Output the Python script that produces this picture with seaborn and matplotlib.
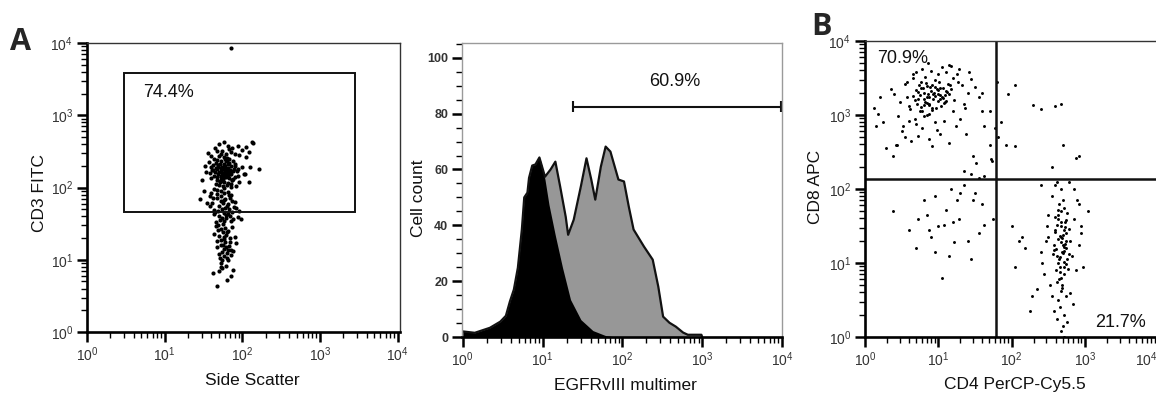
import numpy as np
import matplotlib
matplotlib.use("Agg")
import matplotlib.pyplot as plt
import matplotlib.ticker as mticker
import seaborn as sns

sns.set_theme(style="white")
plt.rcParams['font.family'] = ['Liberation Sans', 'DejaVu Sans']
plt.rcParams['mathtext.fontset'] = 'custom'
plt.rcParams['mathtext.rm'] = 'Liberation Sans'
plt.rcParams['mathtext.it'] = 'Liberation Sans'

# ---------------- data (log10 units for fluorescence axes) ----------------
# Panel A left: Side Scatter (x) vs CD3 FITC (y)
cd3_ssc_log = [
    1.62,1.70,1.75,1.81,1.88,1.66,1.73,1.79,1.84,1.92,1.58,1.69,1.77,1.83,1.95,1.64,1.72,1.80,1.86,1.99,
    1.60,1.68,1.74,1.82,1.90,1.65,1.71,1.78,1.85,1.93,1.57,1.67,1.76,1.81,1.89,1.63,1.74,1.79,1.87,2.02,
    1.61,1.70,1.77,1.84,1.96,1.66,1.72,1.80,1.88,1.75,
    1.69,1.76,1.83,1.71,1.78,1.64,1.86,1.73,1.80,1.67,1.91,1.75,1.82,1.70,1.77,1.62,1.85,1.79,1.72,1.88,
    1.74,1.68,1.81,1.76,1.94,1.66,1.84,1.71,1.78,1.73,1.60,1.87,1.80,1.69,1.75,1.83,1.77,1.72,1.90,1.79,
    1.56,1.65,1.74,1.82,1.91,2.00,2.08,1.60,1.70,1.79,1.87,1.96,2.05,1.68,1.77,1.85,1.94,2.14,1.72,1.83,
    2.12,2.05,2.10,2.03,2.09,2.21,
    1.48,1.52,1.50,1.46,1.53,1.55,
    1.60,1.68,1.75,1.83,1.92,1.64,1.72,1.79,1.87,1.96,1.58,1.70,1.77,1.85,1.62,1.74,1.81,1.90,1.66,1.73,
    1.80,1.88,1.69,1.76,1.84,1.61,1.71,1.78,1.86,1.94,1.65,1.75,1.82,1.67,1.79,1.89,1.63,1.72,1.77,1.84,
    1.70,1.76,1.81,1.98,1.59,1.74,1.87,1.68,1.78,1.83,
    1.66,1.73,1.80,1.87,1.70,1.77,1.84,1.64,1.75,1.82,1.90,1.68,1.78,1.85,1.72,1.80,1.69,1.76,1.83,1.92,
    1.71,1.79,1.74,1.86,1.67,1.81,1.77,1.73,1.84,1.70,1.78,1.75,1.82,1.72,1.80,1.76,1.88,1.69,1.79,1.74,
    1.62,1.74,1.85,1.79,1.70,1.88,1.68,1.80,1.73,
    1.86]
cd3_fitc_log = [
    2.31,2.22,2.18,2.27,2.12,2.05,2.36,2.14,2.24,2.02,2.20,2.29,2.08,2.34,2.16,2.40,2.11,2.25,2.19,2.28,
    2.13,2.38,2.26,2.06,2.33,2.21,2.09,2.30,2.01,2.23,2.35,2.15,2.42,2.17,2.26,1.98,2.28,2.37,2.10,2.19,
    2.24,2.03,2.32,2.20,2.07,2.27,2.15,2.41,2.23,2.12,
    2.18,2.26,2.13,2.33,2.21,2.16,2.30,2.09,2.38,2.25,2.14,2.02,2.22,2.43,2.29,2.24,2.05,2.17,2.27,2.36,
    2.20,2.11,2.32,2.15,2.25,2.34,2.19,2.07,2.39,2.23,2.28,2.10,2.04,2.31,2.26,2.40,2.00,2.16,2.30,2.21,
    2.48,2.55,2.51,2.58,2.47,2.52,2.49,2.44,2.60,2.46,2.54,2.45,2.56,2.50,2.63,2.49,2.57,2.61,2.46,2.53,
    2.63,2.42,2.28,2.18,2.07,2.25,
    2.10,2.30,1.95,1.84,2.22,1.78,
    1.92,1.85,1.78,1.90,1.71,1.64,1.88,1.58,1.82,1.67,1.75,1.60,1.93,1.54,1.86,1.70,1.63,1.80,1.52,1.95,
    1.74,1.57,1.68,1.83,1.61,1.79,1.55,1.72,1.89,1.59,1.66,1.50,1.77,1.91,1.62,1.73,1.69,1.81,1.53,1.86,
    1.74,1.65,1.94,1.56,1.88,1.58,1.66,1.97,1.84,1.70,
    1.47,1.42,1.38,1.45,1.33,1.29,1.25,1.36,1.21,1.40,1.31,1.17,1.44,1.13,1.27,1.09,1.48,1.05,1.19,1.23,
    1.02,1.34,1.11,1.06,1.26,0.99,1.15,0.96,1.30,1.08,1.24,1.38,1.14,1.20,1.03,1.32,1.12,1.41,1.18,1.00,
    0.82,0.88,0.78,0.92,0.84,0.86,0.63,0.72,0.90,
    3.93]
cd3_gate = dict(x0=3.0, x1=2800.0, y0=46.0, y1=3800.0)
cd3_label = "74.4%"

# Panel A right: EGFRvIII multimer histogram (log10 x, cell count)
egfr_log = [0.00,0.15,0.34,0.47,0.54,0.59,0.64,0.69,0.74,0.77,0.81,0.83,0.87,0.91,0.96,
            1.03,1.10,1.16,1.22,1.29,1.32,1.39,1.48,1.55,1.61,1.66,1.73,1.79,1.85,1.89,
            1.95,2.02,2.08,2.14,2.27,2.38,2.45,2.51,2.59,2.67,2.76,2.82,2.99,3.00]
egfr_count = [2.0,1.5,3.3,5.5,7.6,12.7,17.0,24.8,38.5,50.0,51.7,57.0,61.4,61.8,64.3,
              57.4,60.0,62.8,53.9,43.0,36.6,42.0,54.0,64.0,56.4,49.2,61.0,68.2,66.4,62.4,
              56.4,55.7,46.7,38.5,32.4,27.7,18.0,7.3,5.1,3.7,1.6,0.8,0.8,0.0]
ctrl_log = [0.00,0.15,0.34,0.47,0.54,0.59,0.64,0.69,0.74,0.77,0.81,0.83,0.87,0.91,0.95,
            0.98,1.03,1.08,1.16,1.25,1.35,1.48,1.63,1.79,1.92]
ctrl_count = [2.0,1.5,3.3,5.5,7.6,12.7,17.0,24.8,38.5,50.0,51.7,57.0,61.4,61.8,64.3,
              62.8,56.4,47.4,36.3,24.8,13.4,6.2,2.3,0.5,0.0]
egfr_gate = dict(x0=24.0, x1=10000.0, y=82.5)
egfr_label = "60.9%"

# Panel B: CD4 PerCP-Cy5.5 (x) vs CD8 APC (y)
cd4_log = [
    0.72,0.80,0.88,0.95,1.03,1.10,0.76,0.84,0.91,0.99,1.07,1.15,0.70,0.78,0.86,0.93,1.01,1.09,0.74,0.82,
    0.90,0.97,1.05,1.13,0.68,0.79,0.87,0.94,1.02,1.18,0.75,0.83,0.92,1.00,1.08,0.71,0.81,0.89,0.96,1.04,
    1.12,0.77,0.85,0.93,1.06,0.73,0.88,0.98,1.11,0.66,0.84,0.91,1.00,1.16,0.80,0.95,1.03,0.87,1.09,0.76,
    0.35,0.48,0.55,0.62,0.45,0.58,0.52,0.40,0.65,0.60,1.25,1.32,1.40,1.28,1.45,1.22,1.36,1.50,1.30,1.42,
    1.20,1.55,1.18,1.27,0.90,1.00,1.10,0.82,1.05,1.15,0.95,0.70,0.78,0.85,0.60,0.68,0.75,0.55,0.50,0.63,
    0.72,0.88,0.98,1.08,1.24,1.35,1.14,1.02,0.92,0.80,0.66,0.57,0.44,1.60,1.48,1.38,0.70,0.78,0.86,1.20,
    0.12,0.20,0.25,0.18,0.38,0.42,0.28,0.15,
    1.80,1.95,2.05,2.30,2.40,2.60,2.68,1.92,2.05,2.70,2.92,2.88,2.55,1.85,1.78,1.74,1.82,1.70,
    1.70,1.62,1.72,1.52,1.45,1.35,1.62,1.55,1.60,
    0.38,0.72,0.85,0.95,1.10,1.20,1.30,1.35,1.48,0.88,1.00,1.22,1.40,1.55,1.62,1.75,0.90,1.08,0.60,0.80,
    1.25,1.60,1.15,1.05,0.95,1.45,1.18,1.50,1.28,0.70,
    2.62,2.70,2.66,2.74,2.58,2.68,2.72,2.64,2.76,2.60,2.69,2.73,2.65,2.71,2.67,2.78,2.63,2.70,2.75,2.61,
    2.68,2.72,2.66,2.80,2.59,2.69,2.74,2.64,2.71,2.67,2.77,2.62,2.70,2.65,2.73,2.68,2.60,2.76,2.66,2.71,
    2.63,2.69,2.74,2.67,2.82,2.58,2.70,2.65,2.72,2.68,2.64,2.75,2.61,2.69,2.73,2.66,2.71,2.57,2.79,2.67,
    2.40,2.45,2.50,2.52,2.48,2.55,2.85,2.88,2.92,2.95,2.90,2.86,2.42,2.50,2.55,2.60,2.78,2.84,2.66,2.72,
    2.62,2.70,2.74,2.68,2.76,2.64,2.58,2.80,2.62,2.72,3.05,2.95,2.35,2.47,2.98,
    2.15,2.18,2.10,2.05,2.00,2.40,2.62,2.92,2.28,2.25]
cd8_log = [
    3.22,3.30,3.15,3.38,3.27,3.33,3.11,3.25,3.41,3.19,3.36,3.28,3.34,3.06,3.29,3.22,3.44,3.17,3.40,3.18,
    3.32,3.09,3.25,3.42,3.20,3.37,3.13,3.30,3.21,3.35,3.27,3.43,3.07,3.34,3.16,3.15,3.21,3.38,3.26,3.12,
    3.31,3.45,3.16,3.29,3.23,3.31,3.24,3.35,3.19,3.26,3.39,3.10,3.28,3.40,3.14,3.47,3.36,3.02,3.27,3.36,
    3.35,3.18,3.42,3.08,2.98,3.25,2.85,3.28,3.50,2.92,3.55,3.40,3.30,3.62,3.48,3.20,3.10,3.38,2.95,3.58,
    3.05,3.25,3.66,3.45,3.60,3.55,3.58,3.52,3.65,3.68,2.90,2.88,2.82,3.00,3.12,2.95,3.05,2.70,2.78,2.65,
    2.72,2.68,2.80,2.92,2.85,3.15,2.62,2.75,2.58,2.98,3.55,3.45,2.60,3.05,2.45,2.75,3.58,3.62,3.70,3.50,
    3.10,3.25,2.90,3.02,2.45,2.60,2.55,2.85,
    3.45,3.28,3.40,3.13,3.08,3.12,3.15,2.60,2.58,2.60,2.45,2.42,2.30,2.90,2.82,2.38,2.70,2.60,
    3.05,2.85,2.40,2.35,2.20,2.25,2.18,2.15,3.30,
    1.70,1.60,1.65,1.90,1.72,1.55,1.95,2.05,1.85,1.45,1.50,1.28,1.30,1.40,1.52,1.60,1.35,1.52,1.45,1.85,
    1.85,1.80,1.10,0.80,1.15,1.05,2.00,1.95,1.60,1.20,
    1.10,1.25,0.95,1.40,1.18,1.55,0.85,1.32,1.05,1.62,1.15,1.48,0.78,1.22,1.70,1.12,1.00,1.38,1.58,0.90,
    1.28,1.75,1.08,1.30,1.45,0.70,1.20,1.65,1.02,1.35,0.92,1.52,1.14,1.80,1.26,0.62,1.42,1.68,0.88,1.16,
    1.60,1.34,0.98,1.50,1.10,1.24,1.85,1.06,1.44,0.80,1.72,1.30,1.19,0.66,1.55,1.36,0.94,1.12,1.46,2.00,
    1.15,0.85,1.35,0.70,1.50,0.55,1.60,0.90,1.25,1.40,1.85,2.00,1.00,1.65,1.90,2.05,2.10,0.45,0.40,0.30,
    0.25,0.15,0.55,0.08,0.20,0.50,0.35,0.60,0.75,0.00,1.70,1.50,0.65,1.30,0.95,
    1.35,1.20,1.30,0.95,1.50,2.05,2.10,1.80,0.55,0.35]
quad_x = 61.0
quad_y = 136.0
q_ul_label = "70.9%"
q_lr_label = "21.7%"

decade_ticks = [1, 10, 100, 1000, 10000]
decade_labels = [r"$10^{0}$", r"$10^{1}$", r"$10^{2}$", r"$10^{3}$", r"$10^{4}$"]
count_ticks = [0, 20, 40, 60, 80, 100]

# ---------------- figure ----------------
W, H = 1156, 396
fig = plt.figure(figsize=(W / 100, H / 100), dpi=100)
fig.patch.set_facecolor("white")

def px_axes(l, r, t, b):
    return fig.add_axes([l / W, (H - b) / H, (r - l) / W, (b - t) / H])

axA = px_axes(87, 400, 43, 332)
axH = px_axes(462, 782, 43, 337)
axB = px_axes(865, 1158, 41, 337)

lab_font = dict(fontsize=12.5, color="#111111")
pct_font = dict(fontsize=13, color="#111111")

def style_axes(ax, thick=("left", "bottom"), thin_color="#333333"):
    for s in ["left", "bottom", "top", "right"]:
        if s in thick:
            ax.spines[s].set_linewidth(1.9)
            ax.spines[s].set_color("black")
        else:
            ax.spines[s].set_linewidth(1.0)
            ax.spines[s].set_color(thin_color)
    ax.tick_params(which="both", bottom=True, left=True, top=False, right=False,
                   direction="out", color="black")
    ax.tick_params(which="major", length=7, width=1.8, labelsize=10,
                   labelcolor="#333333", pad=3)
    ax.tick_params(which="minor", length=4, width=1.0)
    ax.set_facecolor("white")
    ax.grid(False)

def log_axis(axis):
    axis.set_major_locator(mticker.FixedLocator(decade_ticks))
    axis.set_major_formatter(mticker.FixedFormatter(decade_labels))
    axis.set_minor_locator(mticker.LogLocator(base=10, subs=np.arange(2, 10), numticks=20))
    axis.set_minor_formatter(mticker.NullFormatter())

# ---- Panel A left ----
sns.scatterplot(x=10 ** np.array(cd3_ssc_log), y=10 ** np.array(cd3_fitc_log), ax=axA,
                s=9, color="black", linewidth=0, legend=False)
axA.set_xscale("log"); axA.set_yscale("log")
axA.set_xlim(1, 10 ** 4.03); axA.set_ylim(1, 10 ** 4.0)
log_axis(axA.xaxis); log_axis(axA.yaxis)
g = cd3_gate
axA.add_patch(plt.Rectangle((g["x0"], g["y0"]), g["x1"] - g["x0"], g["y1"] - g["y0"],
                            fill=False, ec="#111111", lw=1.4))
axA.text(10 ** 0.72, 10 ** 3.32, cd3_label, ha="left", va="center", **pct_font)
style_axes(axA)
axA.set_xlabel("Side Scatter", **lab_font)
axA.set_ylabel("CD3 FITC", **lab_font)
axA.xaxis.set_label_coords(0.527, -0.142)
axA.yaxis.set_label_coords(-0.128, 0.48)

# ---- Panel A right (histogram) ----
ex = 10 ** np.array(egfr_log)
cx = 10 ** np.array(ctrl_log)
axH.fill_between(ex, egfr_count, 0, color="#979797", lw=0)
sns.lineplot(x=ex, y=egfr_count, ax=axH, color="#111111", lw=1.6, sort=False, estimator=None)
axH.fill_between(cx, ctrl_count, 0, color="black", lw=0)
axH.set_xscale("log")
axH.set_xlim(10 ** -0.01, 10 ** 4.0)
axH.set_ylim(0, 105.3)
log_axis(axH.xaxis)
axH.yaxis.set_major_locator(mticker.FixedLocator(count_ticks))
axH.yaxis.set_minor_locator(mticker.MultipleLocator(5))
eg = egfr_gate
axH.plot([eg["x0"], eg["x1"]], [eg["y"], eg["y"]], color="#111111", lw=1.5)
axH.vlines([eg["x0"], eg["x1"] * 0.985], eg["y"] - 2.0, eg["y"] + 2.0, color="#111111", lw=1.5)
axH.text(10 ** 2.65, 91.5, egfr_label, ha="center", va="center", **pct_font)
style_axes(axH, thick=("bottom",), thin_color="#9a9a9a")
axH.tick_params(axis="y", which="major", labelsize=9)
for lab in axH.get_yticklabels():
    lab.set_fontweight("bold")
axH.set_xlabel("EGFRvIII multimer", **lab_font)
axH.set_ylabel("Cell count", **lab_font)
axH.xaxis.set_label_coords(0.51, -0.139)
axH.yaxis.set_label_coords(-0.112, 0.473)

# ---- Panel B ----
sns.scatterplot(x=10 ** np.array(cd4_log), y=10 ** np.array(cd8_log), ax=axB,
                s=4.5, color="black", linewidth=0, legend=False)
axB.set_xscale("log"); axB.set_yscale("log")
axB.set_xlim(1, 10 ** 4.0); axB.set_ylim(1, 10 ** 4.0)
log_axis(axB.xaxis); log_axis(axB.yaxis)
axB.axvline(quad_x, color="#111111", lw=1.8)
axB.axhline(quad_y, color="#111111", lw=1.8)
axB.text(10 ** 0.16, 10 ** 3.77, q_ul_label, ha="left", va="center", **pct_font)
axB.text(10 ** 3.49, 10 ** 0.19, q_lr_label, ha="center", va="center", **pct_font)
style_axes(axB)
axB.get_xticklabels()[-1].set_horizontalalignment("right")
axB.set_xlabel("CD4 PerCP-Cy5.5", **lab_font)
axB.set_ylabel("CD8 APC", **lab_font)
axB.xaxis.set_label_coords(0.512, -0.135)
axB.yaxis.set_label_coords(-0.143, 0.507)

# panel letters
fig.text(10 / W, (H - 50) / H, "A", fontsize=22, fontweight="bold", family="Open Sans",
         ha="left", va="baseline")
fig.text(811 / W, (H - 35) / H, "B", fontsize=22, fontweight="bold", family="Open Sans",
         ha="left", va="baseline")

fig.savefig("out.png", dpi=100, facecolor="white")
